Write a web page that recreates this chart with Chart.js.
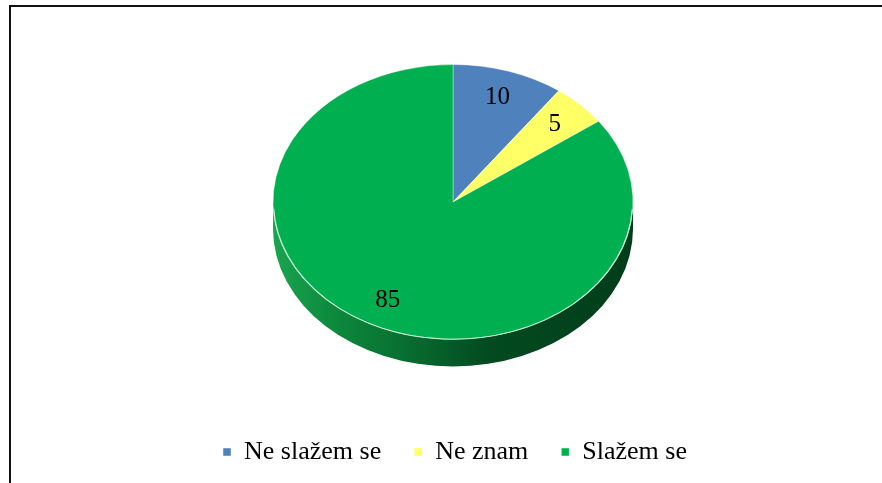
<!DOCTYPE html>
<html>
<head>
<meta charset="utf-8">
<script src="https://cdn.jsdelivr.net/npm/chart.js@4/dist/chart.umd.min.js"></script>
<style>
  html, body { margin: 0; padding: 0; background: #fff; }
  #wrap { position: relative; width: 882px; height: 483px; overflow: hidden; }
  #frame {
    position: absolute; left: 9px; top: 5px; width: 900px; height: 500px;
    border-left: 2px solid #111; border-top: 2px solid #111;
  }
  canvas { position: absolute; left: 0; top: 0; }
</style>
</head>
<body>
<div id="wrap">
  <div id="frame"></div>
  <canvas id="chart" width="882" height="483"></canvas>
</div>
<script>
// answers and their shares (percent)
var categories = ["Ne slažem se", "Ne znam", "Slažem se"];
var shares = [10, 5, 85];
var faceColors = ["#4f81bd", "#ffff66", "#00b050"];

// screen geometry of the tilted pie
var PIE = { cx: 453, cy: 202, rx: 180, ry: 137.5, depth: 27, labelAt: 0.8 };

function pieTransform(arc) {
  var R = arc.outerRadius;
  return { sx: PIE.rx / R, sy: PIE.ry / R };
}

var tiltedPie = {
  id: "tiltedPie",
  beforeDatasetsDraw: function (chart) {
    var ctx = chart.ctx;
    var arcs = chart.getDatasetMeta(0).data;
    if (!arcs.length) return;
    var a0 = arcs[0];
    var t = pieTransform(a0);
    ctx.save();
    ctx.translate(PIE.cx, PIE.cy);
    ctx.scale(t.sx, t.sy);
    ctx.translate(-a0.x, -a0.y);

    var R = a0.outerRadius;
    var d = PIE.depth / t.sy;
    // front side wall, only the part facing us (angles 0..PI)
    arcs.forEach(function (arc, i) {
      var s = Math.max(arc.startAngle, 0);
      var e = Math.min(arc.endAngle, Math.PI);
      if (e <= s) return;
      var g = ctx.createLinearGradient(arc.x - R, 0, arc.x + R, 0);
      if (i === 2) {
        g.addColorStop(0, "#1aa550");
        g.addColorStop(0.15, "#0e8c3e");
        g.addColorStop(0.4, "#07692e");
        g.addColorStop(0.6, "#034a20");
        g.addColorStop(1, "#003d1a");
      } else {
        g.addColorStop(0, faceColors[i]);
        g.addColorStop(1, "#333");
      }
      ctx.beginPath();
      ctx.arc(arc.x, arc.y, R, s, e);
      ctx.arc(arc.x, arc.y + d, R, e, s, true);
      ctx.closePath();
      ctx.fillStyle = g;
      ctx.fill();
    });
  },
  afterDatasetsDraw: function (chart) {
    var ctx = chart.ctx;
    var arcs = chart.getDatasetMeta(0).data;
    if (!arcs.length) return;
    var a0 = arcs[0];
    var R = a0.outerRadius;
    // light rim on the front edge of the top face
    ctx.beginPath();
    ctx.arc(a0.x, a0.y, R - 0.5, 0.05, Math.PI - 0.05);
    ctx.strokeStyle = "rgba(220,245,225,0.9)";
    ctx.lineWidth = 1.2;
    ctx.stroke();
    var t = pieTransform(a0);
    ctx.restore();

    // value labels
    ctx.save();
    ctx.font = "25px 'Liberation Serif', 'Times New Roman', serif";
    ctx.fillStyle = "#000";
    ctx.textAlign = "center";
    ctx.textBaseline = "middle";
    arcs.forEach(function (arc, i) {
      var mid = (arc.startAngle + arc.endAngle) / 2;
      var r = R * PIE.labelAt;
      var x = PIE.cx + Math.cos(mid) * r * t.sx;
      var y = PIE.cy + Math.sin(mid) * r * t.sy;
      ctx.fillText(String(shares[i]), x, y);
    });
    ctx.restore();
  }
};

new Chart(document.getElementById("chart"), {
  type: "pie",
  data: {
    labels: categories,
    datasets: [{
      data: shares,
      backgroundColor: faceColors,
      borderColor: "rgba(255,255,255,0.45)",
      borderWidth: 1,
      clip: false
    }]
  },
  options: {
    responsive: false,
    animation: false,
    events: [],
    layout: { padding: { top: 20, bottom: 8, left: 28 } },
    plugins: {
      tooltip: { enabled: false },
      legend: {
        position: "bottom",
        labels: {
          boxWidth: 8,
          boxHeight: 8,
          padding: 33,
          color: "#000",
          font: { family: "'Liberation Serif', 'Times New Roman', serif", size: 26 }
        }
      }
    }
  },
  plugins: [tiltedPie]
});
</script>
</body>
</html>
